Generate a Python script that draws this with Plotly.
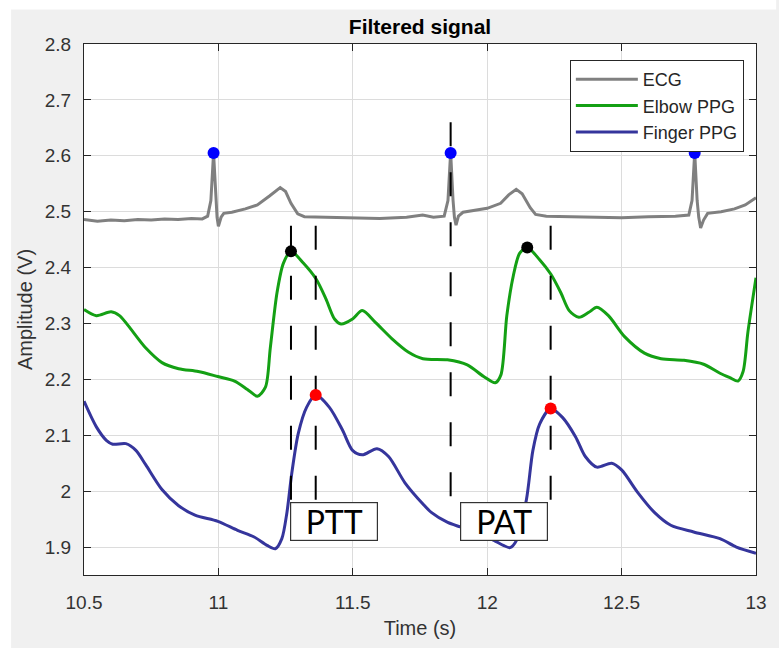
import plotly.graph_objects as go

# ---------------- data ----------------
ecg_t = [10.50, 10.55, 10.60, 10.65, 10.70, 10.75, 10.80, 10.85, 10.90, 10.94, 10.960, 10.972,
         10.982, 10.990, 10.995, 11.000, 11.010, 11.020, 11.05, 11.10, 11.145, 11.19, 11.23,
         11.25, 11.27, 11.295, 11.32, 11.40, 11.50, 11.60, 11.70, 11.76, 11.80, 11.84, 11.854,
         11.864, 11.873, 11.878, 11.884, 11.893, 11.91, 11.95, 12.00, 12.05, 12.08, 12.108,
         12.13, 12.16, 12.18, 12.22, 12.30, 12.40, 12.50, 12.60, 12.70, 12.75, 12.762, 12.772,
         12.781, 12.787, 12.794, 12.805, 12.82, 12.87, 12.92, 12.96, 13.00]
ecg_v = [2.486, 2.483, 2.485, 2.484, 2.486, 2.485, 2.487, 2.486, 2.488, 2.487, 2.492, 2.52,
         2.605, 2.52, 2.49, 2.474, 2.49, 2.497, 2.499, 2.505, 2.512, 2.528, 2.543,
         2.536, 2.515, 2.496, 2.491, 2.490, 2.489, 2.488, 2.490, 2.494, 2.490, 2.492, 2.52,
         2.606, 2.52, 2.49, 2.476, 2.492, 2.499, 2.502, 2.506, 2.515, 2.530, 2.540,
         2.532, 2.507, 2.495, 2.492, 2.491, 2.490, 2.489, 2.491, 2.492, 2.494, 2.52, 2.606,
         2.52, 2.49, 2.471, 2.485, 2.497, 2.500, 2.505, 2.512, 2.525]

elbow_t = [10.500, 10.546, 10.601, 10.632, 10.730, 10.790, 10.852, 10.925, 10.998, 11.060,
           11.108, 11.145, 11.175, 11.193, 11.218, 11.242, 11.270, 11.316, 11.364, 11.400,
           11.432, 11.456, 11.499, 11.535, 11.584, 11.645, 11.706, 11.761, 11.852, 11.926,
           11.987, 12.030, 12.051, 12.073, 12.097, 12.121, 12.149, 12.195, 12.237, 12.274,
           12.305, 12.341, 12.378, 12.408, 12.451, 12.512, 12.585, 12.647, 12.732, 12.805,
           12.866, 12.903, 12.933, 12.952, 12.970, 13.000]
elbow_v = [2.325, 2.314, 2.321, 2.314, 2.256, 2.230, 2.219, 2.214, 2.205, 2.197,
           2.182, 2.170, 2.186, 2.256, 2.355, 2.408, 2.429, 2.408, 2.379, 2.344,
           2.308, 2.299, 2.308, 2.323, 2.302, 2.273, 2.249, 2.237, 2.235, 2.226,
           2.205, 2.194, 2.208, 2.314, 2.385, 2.426, 2.436, 2.414, 2.388, 2.355,
           2.323, 2.311, 2.320, 2.329, 2.314, 2.276, 2.247, 2.237, 2.234, 2.227,
           2.211, 2.203, 2.197, 2.214, 2.285, 2.382]

finger_t = [10.500, 10.546, 10.583, 10.607, 10.656, 10.693, 10.730, 10.790, 10.852, 10.913,
            10.998, 11.071, 11.133, 11.181, 11.212, 11.236, 11.255, 11.273, 11.297, 11.328,
            11.362, 11.413, 11.462, 11.499, 11.535, 11.590, 11.633, 11.694, 11.761, 11.792,
            11.853, 11.900, 11.960, 12.025, 12.060, 12.085, 12.109, 12.146, 12.170, 12.195,
            12.236, 12.280, 12.329, 12.365, 12.408, 12.463, 12.500, 12.561, 12.622, 12.683,
            12.768, 12.866, 12.927, 13.000]
finger_v = [2.161, 2.115, 2.091, 2.084, 2.085, 2.073, 2.047, 2.003, 1.974, 1.957,
            1.946, 1.930, 1.918, 1.903, 1.897, 1.915, 1.962, 2.032, 2.103, 2.150,
            2.172, 2.150, 2.109, 2.073, 2.065, 2.076, 2.062, 2.015, 1.977, 1.962,
            1.944, 1.936, 1.926, 1.912, 1.903, 1.899, 1.912, 1.985, 2.073, 2.120,
            2.148, 2.132, 2.097, 2.062, 2.043, 2.050, 2.038, 1.997, 1.962, 1.939,
            1.927, 1.915, 1.900, 1.889]

# detected peaks
r_peak_t = [10.982, 11.864, 12.772]
r_peak_v = [2.605, 2.605, 2.605]
elbow_peak_t = [11.270, 12.149]
elbow_peak_v = [2.429, 2.436]
finger_peak_t = [11.362, 12.236]
finger_peak_v = [2.172, 2.148]

# dashed timing markers (time, top, bottom)
mark_t = [11.270, 11.362, 11.864, 12.236]
mark_top = [2.475, 2.475, 2.660, 2.475]
mark_bot = [1.980, 1.980, 1.980, 1.980]

# labels
box_labels = ["PTT", "PAT"]
box_t = [11.431, 12.062]
box_v = [1.945, 1.945]

x_ticks = [10.5, 11, 11.5, 12, 12.5, 13]
x_ticktext = ["10.5", "11", "11.5", "12", "12.5", "13"]
y_ticks = [1.9, 2.0, 2.1, 2.2, 2.3, 2.4, 2.5, 2.6, 2.7, 2.8]
y_ticktext = ["1.9", "2", "2.1", "2.2", "2.3", "2.4", "2.5", "2.6", "2.7", "2.8"]

# ---------------- figure ----------------
FONT = "Liberation Sans, Arial, sans-serif"
fig = go.Figure()

fig.add_trace(go.Scatter(x=ecg_t, y=ecg_v, mode="lines", name="ECG",
                         line=dict(color="#808080", width=3)))
fig.add_trace(go.Scatter(x=elbow_t, y=elbow_v, mode="lines", name="Elbow PPG",
                         line=dict(color="#14a014", width=3, shape="spline", smoothing=0.8)))
fig.add_trace(go.Scatter(x=finger_t, y=finger_v, mode="lines", name="Finger PPG",
                         line=dict(color="#35359c", width=3, shape="spline", smoothing=0.8)))

for t, top, bot in zip(mark_t, mark_top, mark_bot):
    fig.add_trace(go.Scatter(x=[t, t], y=[top, bot], mode="lines", showlegend=False,
                             hoverinfo="skip",
                             line=dict(color="black", width=2, dash="24px,26px")))

fig.add_trace(go.Scatter(x=r_peak_t, y=r_peak_v, mode="markers", showlegend=False,
                         marker=dict(color="#0000ff", size=12)))
fig.add_trace(go.Scatter(x=elbow_peak_t, y=elbow_peak_v, mode="markers", showlegend=False,
                         marker=dict(color="#000000", size=12)))
fig.add_trace(go.Scatter(x=finger_peak_t, y=finger_peak_v, mode="markers", showlegend=False,
                         marker=dict(color="#ff0000", size=12)))

for lab, t, v in zip(box_labels, box_t, box_v):
    fig.add_annotation(x=t, y=v, xref="x", yref="y", text=lab, showarrow=False,
                       font=dict(family="Lato, Open Sans, sans-serif", size=32, color="black"),
                       bgcolor="white", bordercolor="#333333", borderwidth=1.2,
                       borderpad=1, width=84, height=35, align="center", valign="middle")

axis_common = dict(showline=True, linecolor="#262626", linewidth=1.2, mirror="ticks",
                   ticks="inside", ticklen=7, tickcolor="#262626", showgrid=True,
                   gridcolor="#dcdcdc", gridwidth=1, zeroline=False,
                   tickfont=dict(family=FONT, size=19, color="#333333"))

fig.update_xaxes(range=[10.5, 13], tickvals=x_ticks, ticktext=x_ticktext,
                 title=dict(text="Time (s)", font=dict(family=FONT, size=20, color="#333333"),
                            standoff=9),
                 ticklabelstandoff=10, **axis_common)
fig.update_yaxes(range=[1.85, 2.8], tickvals=y_ticks, ticktext=y_ticktext,
                 title=dict(text="Amplitude (V)", font=dict(family=FONT, size=20, color="#333333"),
                            standoff=6),
                 ticklabelstandoff=8, **axis_common)

fig.update_layout(
    width=779, height=648, autosize=False,
    margin=dict(l=84, r=13, t=44, b=66),
    paper_bgcolor="#f0f0f0", plot_bgcolor="white",
    title=dict(text="<b>Filtered signal</b>", x=0.5, xref="paper", xanchor="center",
               y=1 - 27 / 648, yref="container", yanchor="middle",
               font=dict(family=FONT, size=21, color="#000000")),
    legend=dict(x=0.723, y=0.970, xanchor="left", yanchor="top",
                bgcolor="white", bordercolor="#262626", borderwidth=1,
                font=dict(family=FONT, size=18, color="#262626"),
                itemwidth=62, tracegroupgap=0),
    shapes=[
        dict(type="rect", xref="paper", yref="paper", x0=-0.13, x1=-74 / 682,
             y0=-0.14, y1=1.1, fillcolor="white", line=dict(width=0), layer="below"),
        dict(type="rect", xref="paper", yref="paper", x0=-0.13, x1=1.03,
             y0=1 + 35 / 538, y1=1.1, fillcolor="white", line=dict(width=0), layer="below"),
    ],
    showlegend=True,
)

fig.write_html("out.html")
